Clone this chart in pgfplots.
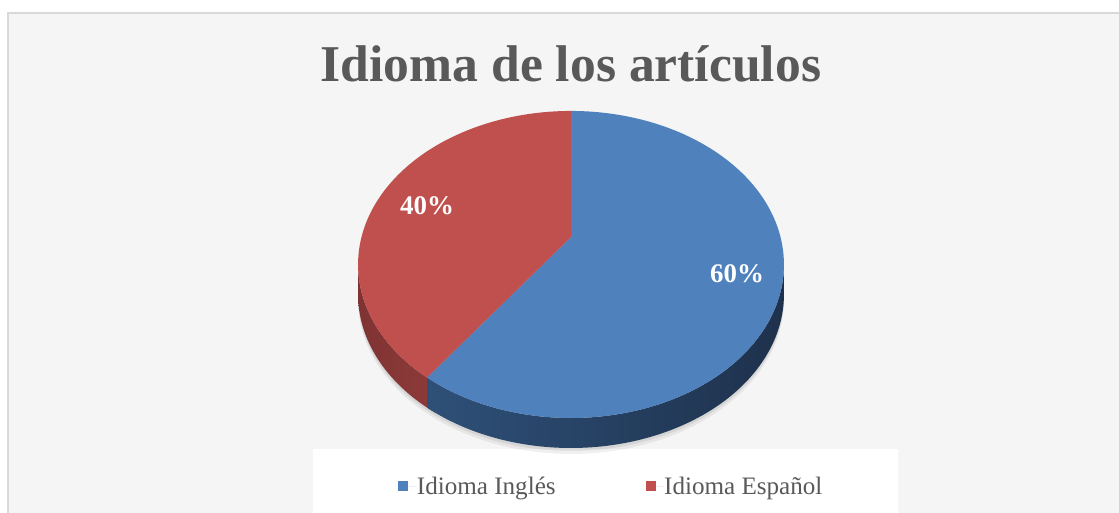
\documentclass[border=0pt]{standalone}
\usepackage{fontspec}
\setmainfont{Liberation Serif}
\usepackage{pgfplots}
\usepackage{pgfplotstable}
\pgfplotsset{compat=1.18}
\definecolor{pblue}{HTML}{4F81BD}
\definecolor{pred}{HTML}{C0504D}
\definecolor{sblueL}{HTML}{2E5078}
\definecolor{sblueR}{HTML}{1E314C}
\definecolor{sredL}{HTML}{7E3332}
\definecolor{sredR}{HTML}{8E3B3A}
\definecolor{bgc}{HTML}{F5F5F5}
\definecolor{brd}{HTML}{D9D9D9}
\definecolor{txtc}{HTML}{595959}

\pgfplotstableread{
label value
Ingles 60
Espanol 40
}\piedata

\begin{document}%
\begin{tikzpicture}
\pgfplotstablegetelem{0}{value}\of\piedata \let\vA\pgfplotsretval
\pgfplotstablegetelem{1}{value}\of\piedata \let\vB\pgfplotsretval
\pgfmathsetmacro\fA{\vA/(\vA+\vB)}
\pgfmathsetmacro\fB{\vB/(\vA+\vB)}
\pgfmathsetmacro\tS{90}
\pgfmathsetmacro\tM{90-360*\fA}
\pgfmathsetmacro\tE{\tM-360*\fB}
\pgfmathsetmacro\tMr{\tM+3}
\begin{axis}[
  scale only axis, width=1119bp, height=513bp,
  xmin=0, xmax=1119, ymin=0, ymax=513,
  hide axis,
  declare function={
    px(\t)=571+209.5*cos(\t)/(1+0.179*sin(\t));
    py(\t)=276+148.6*sin(\t)/(1+0.179*sin(\t));
    ts(\s,\a,\b)=(\s<=1) ? (\a+\s*(\b-\a)) : (\b-(\s-1)*(\b-\a));
    ys(\s,\a,\b)=(\s<=1) ? (py(ts(\s,\a,\b))) : (py(ts(\s,\a,\b))-30);
  },
  legend columns=2,
  legend style={at={(0.5455,0.0507)}, anchor=center, draw=none, fill=none,
    font=\fontsize{25.2}{30}\selectfont, text=txtc,
    nodes={inner xsep=0pt, inner ysep=2pt},
    /tikz/every even column/.append style={column sep=90bp}},
]
\coordinate (BL) at (axis cs:0,0);
\coordinate (TR) at (axis cs:1119,513);
% background
\fill[white] (axis cs:0,0) rectangle (axis cs:1119,513);
\fill[bgc] (axis cs:8,-5) rectangle (axis cs:1130,500);
\draw[brd, line width=2bp] (axis cs:8,-5) rectangle (axis cs:1130,500);
\fill[white] (axis cs:313,-5) rectangle (axis cs:898,64);

% soft shadow
\addplot[forget plot, draw=none, fill=black, fill opacity=0.06, domain=0:360, samples=120]
  ({px(x)},{py(x)-36});
\addplot[forget plot, draw=none, fill=black, fill opacity=0.07, domain=0:360, samples=120]
  ({px(x)},{py(x)-33});

% sides
\addplot[forget plot, draw=none, left color=sredL, right color=sredR, domain=0:2, samples=201]
  ({px(ts(x,-169.7,\tMr))},{ys(x,-169.7,\tMr)});
\addplot[forget plot, draw=none, left color=sblueL, right color=sblueR, domain=0:2, samples=301]
  ({px(ts(x,\tM,-10.3))},{ys(x,\tM,-10.3)});

% top faces
\addplot[draw=none, fill=pblue, domain=\tM:\tS, samples=200,
  legend image code/.code={\fill[pblue] (0bp,-4.5bp) rectangle (10bp,5.5bp); \path (0bp,0bp) -- (18.5bp,0bp);}]
  ({px(x)},{py(x)}) -- (axis cs:571,276) -- cycle;
\addlegendentry{Idioma Inglés}
\addplot[draw=none, fill=pred, domain=\tE:\tM, samples=150,
  legend image code/.code={\fill[pred] (0bp,-4.5bp) rectangle (10bp,5.5bp); \path (0bp,0bp) -- (18.5bp,0bp);}]
  ({px(x)},{py(x)}) -- (axis cs:571,276) -- cycle;
\addlegendentry{Idioma Español}

% labels
\node[text=white, font=\bfseries\fontsize{27}{32}\selectfont] at (axis cs:737,239) {60\%};
\node[text=white, font=\bfseries\fontsize{27}{32}\selectfont] at (axis cs:427,307) {40\%};
% title
\node[anchor=base, text=txtc, font=\bfseries\fontsize{51.8}{60}\selectfont] at (axis cs:571,431) {Idioma de los artículos};
\end{axis}
\pgfresetboundingbox
\path (BL) rectangle (TR);
\end{tikzpicture}%
\end{document}
